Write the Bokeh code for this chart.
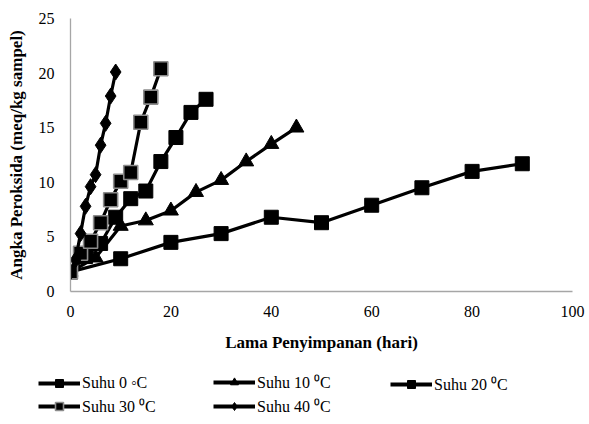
from bokeh.plotting import figure
from bokeh.models import Legend, LegendItem, FixedTicker
from bokeh.embed import file_html
from bokeh.resources import INLINE

# ---- data ----
x0 = [0, 10, 20, 30, 40, 50, 60, 70, 80, 90]
y0 = [1.8, 3.0, 4.5, 5.3, 6.8, 6.3, 7.9, 9.5, 11.0, 11.7]

x10 = [0, 5, 10, 15, 20, 25, 30, 35, 40, 45]
y10 = [1.8, 3.1, 6.0, 6.5, 7.4, 9.1, 10.2, 11.9, 13.5, 15.0]

x20 = [0, 3, 6, 9, 12, 15, 18, 21, 24, 27]
y20 = [1.8, 3.2, 4.4, 6.8, 8.5, 9.2, 11.9, 14.1, 16.4, 17.6]

x30 = [0, 2, 4, 6, 8, 10, 12, 14, 16, 18]
y30 = [1.8, 3.5, 4.6, 6.3, 8.4, 10.1, 10.9, 15.5, 17.8, 20.4]

x40 = [0, 1, 2, 3, 4, 5, 6, 7, 8, 9]
y40 = [1.8, 2.9, 5.3, 7.8, 9.6, 10.7, 13.4, 15.4, 17.9, 20.1]

labels = ["Suhu 0 \u25e6C", "Suhu 10 \u2070C", "Suhu 20 \u2070C", "Suhu 30 \u2070C", "Suhu 40 \u2070C"]
x_ticks = [0, 20, 40, 60, 80, 100]
y_ticks = [0, 5, 10, 15, 20, 25]

FONT = "Liberation Serif, Times New Roman, serif"

p = figure(width=589, height=356, x_range=(0, 100), y_range=(0, 25),
           output_backend="svg", toolbar_location=None,
           min_border_left=70, min_border_right=17, min_border_top=18, min_border_bottom=65)
p.outline_line_color = None
p.xgrid.visible = False
p.ygrid.visible = False

for ax in (p.xaxis[0], p.yaxis[0]):
    ax.axis_line_color = "#a6a6a6"
    ax.axis_line_width = 1.3
    ax.major_tick_line_color = None
    ax.minor_tick_line_color = None
    ax.major_label_text_font = FONT
    ax.major_label_text_font_size = "16px"
    ax.major_label_text_color = "black"
    ax.axis_label_text_font = FONT
    ax.axis_label_text_font_size = "17px"
    ax.axis_label_text_font_style = "bold"
    ax.axis_label_text_color = "black"

p.xaxis.ticker = FixedTicker(ticks=x_ticks)
p.yaxis.ticker = FixedTicker(ticks=y_ticks)
p.xaxis.axis_label = "Lama Penyimpanan (hari)"
p.yaxis.axis_label = "Angka Peroksida (meq/kg sampel)"
p.xaxis.major_label_standoff = 8
p.yaxis.major_label_standoff = 10
p.xaxis.axis_label_standoff = 13
p.yaxis.axis_label_standoff = 10

series = [
    (x0, y0, "square", 14, "black", 1),
    (x10, y10, "triangle", 15, "black", 1),
    (x20, y20, "square", 14, "black", 1),
    (x30, y30, "square", 14, "#8c8c8c", 1.6),
    (x40, y40, "diamond", 16, "black", 1),
]
for (xs, ys, mk, sz, lc, lw) in series:
    p.line(xs, ys, line_color="black", line_width=3.2)
    p.scatter(xs, ys, marker=mk, size=sz, fill_color="black", line_color=lc, line_width=lw)

# legend panel (same series, drawn outside its visible range; only the legend shows)
lg = figure(width=589, height=68, x_range=(1000, 1001), y_range=(1000, 1001),
            output_backend="svg", toolbar_location=None,
            x_axis_location=None, y_axis_location=None,
            min_border_left=0, min_border_right=0, min_border_top=0, min_border_bottom=0)
lg.grid.visible = False
lg.outline_line_color = None
items = []
for (xs, ys, mk, sz, lc, lw), lab in zip(series, labels):
    r1 = lg.line(xs, ys, line_color="black", line_width=4)
    r2 = lg.scatter(xs, ys, marker=mk, size=sz, fill_color="black", line_color=lc, line_width=lw)
    items.append(LegendItem(label=lab, renderers=[r1, r2]))

groups = [([items[0], items[3]], 38), ([items[1], items[4]], 213), ([items[2]], 390)]
for its, lx in groups:
    lgd = Legend(items=its, location=(lx, 7 + (22 if len(its) == 1 else 0)),
                 glyph_width=42, glyph_height=20, label_height=20,
                 label_standoff=2, spacing=2, padding=0, margin=0,
                 label_text_font=FONT, label_text_font_size="16px",
                 label_text_color="black",
                 background_fill_alpha=0, border_line_color=None)
    lg.add_layout(lgd)

# two separate roots stacked on the page (no frame alignment between them)
open("out.html", "w").write(file_html([p, lg], INLINE))
